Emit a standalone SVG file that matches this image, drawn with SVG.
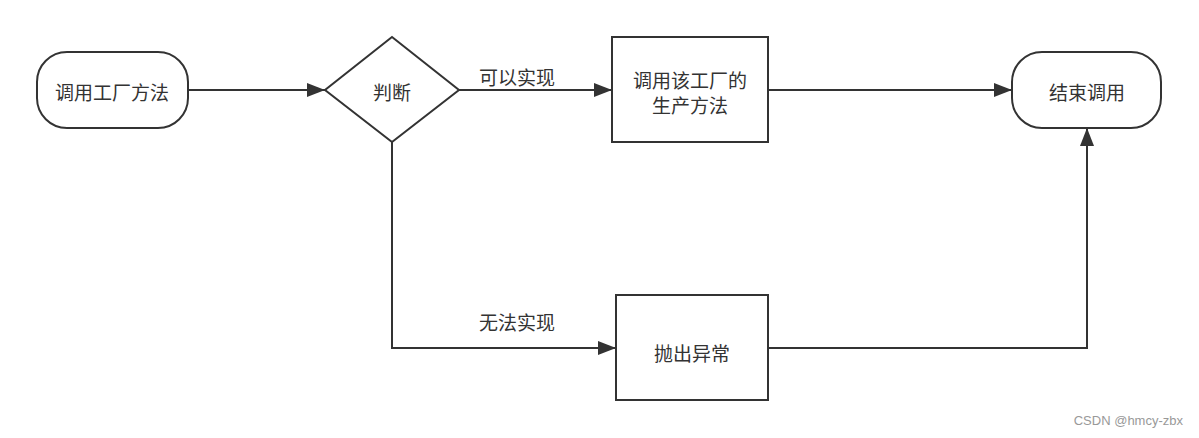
<svg xmlns="http://www.w3.org/2000/svg" width="1199" height="438" viewBox="0 0 1199 438">
<defs>
<style>
.shape{fill:#fff;stroke:#333;stroke-width:2}
.conn{fill:none;stroke:#333;stroke-width:2}
.t{font-family:"Microsoft YaHei","Noto Sans CJK SC","Noto Sans",sans-serif;font-size:19px;fill:#333;text-anchor:middle;dominant-baseline:central}
.wm{font-family:"Liberation Sans",Arial,sans-serif;font-size:13px;fill:#999;text-anchor:end}
</style>
<marker id="arr" markerUnits="userSpaceOnUse" markerWidth="20" markerHeight="14" refX="18" refY="7" orient="auto">
<path d="M0,0 L18,7 L0,14 Z" fill="#333"/>
</marker>
</defs>
<rect width="1199" height="438" fill="#fff"/>
<g id="connectors">
<path class="conn" d="M188,90 L325,90" marker-end="url(#arr)"/>
<path class="conn" d="M459,90 L612,90" marker-end="url(#arr)"/>
<path class="conn" d="M768,90 L1012,90" marker-end="url(#arr)"/>
<path class="conn" d="M392,142 L392,348 L616,348" marker-end="url(#arr)"/>
<path class="conn" d="M768,348 L1087,348 L1087,128" marker-end="url(#arr)"/>
<text class="t" x="517" y="76">可以实现</text>
<text class="t" x="517" y="321">无法实现</text>
</g>
<g id="start">
<rect class="shape" x="37" y="52" width="151" height="76" rx="30" ry="30"/>
<text class="t" x="112" y="91">调用工厂方法</text>
</g>
<g id="decision">
<polygon class="shape" points="392,37 459,90 392,142 325,90"/>
<text class="t" x="392" y="91">判断</text>
</g>
<g id="produce">
<rect class="shape" x="612" y="37" width="156" height="105"/>
<text class="t" x="690" y="79">调用该工厂的</text>
<text class="t" x="690" y="104">生产方法</text>
</g>
<g id="throw">
<rect class="shape" x="616" y="295" width="152" height="105"/>
<text class="t" x="692" y="352">抛出异常</text>
</g>
<g id="end">
<rect class="shape" x="1012" y="52" width="149" height="76" rx="30" ry="30"/>
<text class="t" x="1087" y="91">结束调用</text>
</g>
<text class="wm" x="1183" y="425">CSDN @hmcy-zbx</text>
</svg>
